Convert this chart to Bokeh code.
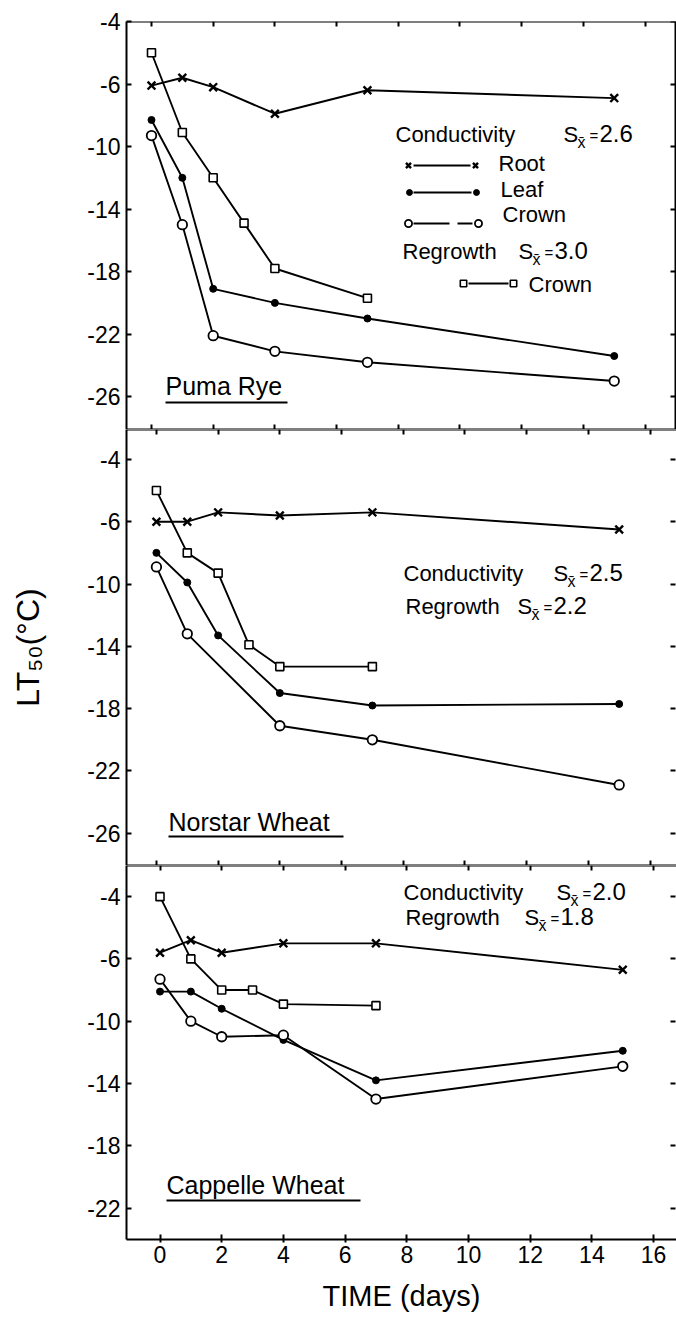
from bokeh.plotting import figure
from bokeh.layouts import column
from bokeh.models import Range1d, LinearAxis, FixedTicker, ColumnDataSource
from bokeh.embed import file_html
from bokeh.resources import INLINE
from bokeh.core.properties import value

FONT = "Liberation Sans"

# ---------------- data (LT50, deg C) ----------------
DAYS = [0, 1, 2, 4, 7, 15]
DAYS_NORSTAR_CROWN = [0, 1, 4, 7, 15]
DAYS_REGROWTH = [0, 1, 2, 3, 4, 7]

PUMA_ROOT = [-6.1, -5.8, -6.2, -7.9, -6.4, -6.9]
PUMA_LEAF = [-8.3, -12.0, -19.1, -20.0, -21.0, -23.4]
PUMA_CROWN = [-9.3, -15.0, -22.1, -23.1, -23.8, -25.0]
PUMA_REGROWTH = [-5.0, -9.1, -12.0, -14.9, -17.8, -19.7]

NORSTAR_ROOT = [-6.0, -6.0, -5.7, -5.8, -5.7, -6.5]
NORSTAR_LEAF = [-8.0, -9.9, -13.3, -17.0, -17.8, -17.7]
NORSTAR_CROWN = [-8.9, -13.2, -19.1, -20.0, -22.9]
NORSTAR_REGROWTH = [-5.0, -8.0, -9.3, -13.9, -15.3, -15.3]

CAPPELLE_ROOT = [-5.8, -5.4, -5.8, -5.5, -5.5, -6.7]
CAPPELLE_LEAF = [-8.1, -8.1, -9.2, -11.2, -13.8, -11.9]
CAPPELLE_CROWN = [-7.3, -10.0, -11.0, -10.9, -15.0, -12.9]
CAPPELLE_REGROWTH = [-4.0, -6.0, -8.0, -8.0, -8.9, -9.0]

X_TICKS = [0, 2, 4, 6, 8, 10, 12, 14, 16]
Y_LABELS_FULL = ["-4", "-6", "-10", "-14", "-18", "-22", "-26"]
Y_LABELS_SHORT = ["-4", "-6", "-10", "-14", "-18", "-22"]

SD_TEXT = {
    "puma": [("Conductivity", "2.6"), ("Regrowth", "3.0")],
    "norstar": [("Conductivity", "2.5"), ("Regrowth", "2.2")],
    "cappelle": [("Conductivity", "2.0"), ("Regrowth", "1.8")],
}


# The original axis is drawn with the -4 tick one tick spacing above -6
# (i.e. 2 degrees per tick above -6, 4 degrees per tick below).
def axis_pos(v):
    return -6 + (v + 6) * 2 if v > -6 else v


# ---------------- layout ----------------
W = 676
BORDER_L = 126
FRAME_L_PAGE = BORDER_L
FRAME_W = W - BORDER_L
PXD = 30.85
XSPAN = FRAME_W / PXD

PANELS = {
    "puma": dict(x0=-0.81, y0=-28.1, y1=-2.0, top=21, fh=408, bt=21, bb=0),
    "norstar": dict(x0=-0.97, y0=-28.07, y1=-0.08, top=429, fh=436, bt=0, bb=0),
    "cappelle": dict(x0=-1.086, y0=-24.02, y1=0.0, top=865, fh=374, bt=0, bb=79),
}


def to_plot(cfg, px, py):
    x = cfg["x0"] + (px - FRAME_L_PAGE) / PXD
    y = cfg["y1"] - (py - cfg["top"]) * (cfg["y1"] - cfg["y0"]) / cfg["fh"]
    return x, y


def text(p, cfg, px, base, s, size):
    # base: baseline of the text in page pixels
    x, y = to_plot(cfg, px, base - 0.36 * size)
    p.text(x=[x], y=[y], text=[s], text_font=value(FONT),
           text_font_size=f"{size}px", text_baseline="middle",
           text_align="left", text_color="black")


def seg(p, cfg, px0, px1, py, w=2.0):
    x0, y = to_plot(cfg, px0, py)
    x1, _ = to_plot(cfg, px1, py)
    p.line(x=[x0, x1], y=[y, y], line_color="black", line_width=w)


MARK = {
    "root": dict(marker="x", size=11, line_width=2.4, line_color="black"),
    "leaf": dict(marker="circle", size=7, line_color="black", fill_color="black"),
    "crown": dict(marker="circle", size=9.5, line_width=1.8, line_color="black", fill_color="white"),
    "regrowth": dict(marker="square", size=8, line_width=1.6, line_color="black", fill_color="white"),
}


def mark(p, cfg, px, py, kind, scale=0.8):
    x, y = to_plot(cfg, px, py)
    kw = dict(MARK[kind])
    kw["size"] = kw["size"] * scale
    p.scatter(x=[x], y=[y], **kw)


def series(p, xs, vals, kind):
    src = ColumnDataSource(dict(x=xs, y=[axis_pos(v) for v in vals]))
    p.line("x", "y", source=src, line_color="black", line_width=1.9)
    p.scatter("x", "y", source=src, **MARK[kind])


def make_panel(key, y_labels, show_x_labels=False, y_title=None):
    cfg = PANELS[key]
    x0, x1 = cfg["x0"], cfg["x0"] + XSPAN
    h = cfg["fh"] + cfg["bt"] + cfg["bb"]
    p = figure(width=W, height=h, x_range=Range1d(x0, x1),
               y_range=Range1d(cfg["y0"], cfg["y1"]),
               output_backend="svg", toolbar_location=None,
               x_axis_location=None, y_axis_location=None,
               min_border_left=BORDER_L, min_border_right=0,
               min_border_top=cfg["bt"], min_border_bottom=cfg["bb"])
    p.outline_line_color = None
    p.grid.visible = False
    p.background_fill_color = "white"
    p.border_fill_color = "white"

    ypos = [axis_pos(float(l)) for l in y_labels]
    common = dict(axis_line_width=2, axis_line_color="black",
                  major_tick_line_width=2, major_tick_line_color="black",
                  minor_tick_in=0, minor_tick_out=0,
                  major_label_text_font=FONT, major_label_text_color="black")

    # left axis
    ya = LinearAxis(ticker=FixedTicker(ticks=ypos),
                    major_label_overrides={t: l for t, l in zip(ypos, y_labels)},
                    major_tick_in=5, major_tick_out=0, major_label_standoff=6,
                    major_label_text_font_size="23px", **common)
    if y_title:
        ya.axis_label = y_title
        ya.axis_label_text_font = FONT
        ya.axis_label_text_font_size = "32px"
        ya.axis_label_text_font_style = "normal"
        ya.axis_label_text_color = "black"
        ya.axis_label_standoff = 38
    p.add_layout(ya, "left")

    # bottom axis
    if show_x_labels:
        xa = LinearAxis(ticker=FixedTicker(ticks=X_TICKS),
                        major_label_overrides={t: str(t) for t in X_TICKS},
                        major_tick_in=5, major_tick_out=3, major_label_standoff=3,
                        major_label_text_font_size="23px",
                        axis_label="TIME (days)", axis_label_text_font=FONT,
                        axis_label_text_font_size="29px",
                        axis_label_text_font_style="normal",
                        axis_label_text_color="black",
                        axis_label_standoff=14, **common)
    else:
        xa = LinearAxis(ticker=FixedTicker(ticks=X_TICKS), fixed_location=cfg["y0"],
                        major_label_overrides={t: "" for t in X_TICKS},
                        major_tick_in=5, major_tick_out=0, **common)
    p.add_layout(xa, "below")

    # top axis (ticks only)
    ta = LinearAxis(ticker=FixedTicker(ticks=X_TICKS), fixed_location=cfg["y1"],
                    major_label_overrides={t: "" for t in X_TICKS},
                    major_tick_in=5, major_tick_out=0, **common)
    p.add_layout(ta, "above")

    # right axis (ticks only), just inside the cut-off right edge
    ra = LinearAxis(ticker=FixedTicker(ticks=ypos), fixed_location=x1 - 1.5 / PXD,
                    major_label_overrides={t: "" for t in ypos},
                    major_tick_in=5, major_tick_out=0, **common)
    if key != "puma":
        ra.axis_line_color = None
    p.add_layout(ra, "right")
    return p, cfg


def sd_block(p, cfg, rows):
    # rows: (label, value, x_label, baseline, x_S)
    for label, val, xl, base, xs in rows:
        text(p, cfg, xl, base, label, 22)
        text(p, cfg, xs, base, "S", 22)
        text(p, cfg, xs + 14, base + 6, "x\u0304", 16)
        text(p, cfg, xs + 26, base - 2, "=", 15)
        text(p, cfg, xs + 36, base, val, 24)


# ---------------- Puma Rye ----------------
p1, c1 = make_panel("puma", Y_LABELS_FULL)
series(p1, DAYS_REGROWTH, PUMA_REGROWTH, "regrowth")
series(p1, DAYS, PUMA_ROOT, "root")
series(p1, DAYS, PUMA_LEAF, "leaf")
series(p1, DAYS, PUMA_CROWN, "crown")
(cl, cv), (rl, rv) = SD_TEXT["puma"]
sd_block(p1, c1, [(cl, cv, 395, 142, 563), (rl, rv, 402, 259, 518)])
# legend samples
seg(p1, c1, 413, 470, 165)
mark(p1, c1, 408, 165, "root", 0.65)
mark(p1, c1, 475, 165, "root", 0.65)
text(p1, c1, 498, 171, "Root", 22)
seg(p1, c1, 413, 471, 192)
mark(p1, c1, 409, 192, "leaf", 0.85)
mark(p1, c1, 476, 192, "leaf", 0.85)
text(p1, c1, 500, 197, "Leaf", 22)
seg(p1, c1, 413, 449, 223)
seg(p1, c1, 457, 472, 223)
mark(p1, c1, 408, 223, "crown", 0.75)
mark(p1, c1, 478, 223, "crown", 0.75)
text(p1, c1, 502, 222, "Crown", 22)
seg(p1, c1, 468, 508, 283)
mark(p1, c1, 463, 283, "regrowth", 0.8)
mark(p1, c1, 513, 283, "regrowth", 0.8)
text(p1, c1, 528, 292, "Crown", 22)
text(p1, c1, 165, 394, "Puma Rye", 25)
seg(p1, c1, 165, 287, 402, 2.2)

# ---------------- Norstar Wheat ----------------
p2, c2 = make_panel("norstar", Y_LABELS_FULL, y_title="LT\u2085\u2080(\u00b0C)")
series(p2, DAYS_REGROWTH, NORSTAR_REGROWTH, "regrowth")
series(p2, DAYS, NORSTAR_ROOT, "root")
series(p2, DAYS, NORSTAR_LEAF, "leaf")
series(p2, DAYS_NORSTAR_CROWN, NORSTAR_CROWN, "crown")
(cl, cv), (rl, rv) = SD_TEXT["norstar"]
sd_block(p2, c2, [(cl, cv, 403, 581, 553), (rl, rv, 405, 614, 517)])
text(p2, c2, 168, 830, "Norstar Wheat", 25)
seg(p2, c2, 168, 343, 836, 2.2)

# ---------------- Cappelle Wheat ----------------
p3, c3 = make_panel("cappelle", Y_LABELS_SHORT, show_x_labels=True)
series(p3, DAYS_REGROWTH, CAPPELLE_REGROWTH, "regrowth")
series(p3, DAYS, CAPPELLE_ROOT, "root")
series(p3, DAYS, CAPPELLE_LEAF, "leaf")
series(p3, DAYS, CAPPELLE_CROWN, "crown")
(cl, cv), (rl, rv) = SD_TEXT["cappelle"]
sd_block(p3, c3, [(cl, cv, 403, 900, 556), (rl, rv, 405, 925, 524)])
text(p3, c3, 166, 1193, "Cappelle Wheat", 25)
seg(p3, c3, 166, 360, 1200, 2.2)

layout = column(p1, p2, p3, spacing=0)
open("out.html", "w").write(file_html(layout, INLINE))
